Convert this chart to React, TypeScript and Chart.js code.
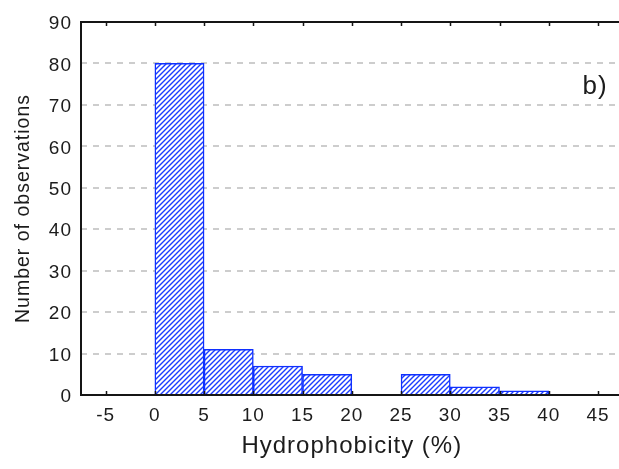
import React, { useEffect, useRef } from 'react';
import { Chart, registerables } from 'chart.js';

Chart.register(...registerables);

// ---- data ----
const binStarts = [0, 5, 10, 15, 20, 25, 30, 35];
const binWidth = 5;
const counts = [80, 11, 7, 5, 0, 5, 2, 1];
const xTickValues = [-5, 0, 5, 10, 15, 20, 25, 30, 35, 40, 45];
const yTickValues = [0, 10, 20, 30, 40, 50, 60, 70, 80, 90];
const xMin = -7.5;
const xMax = 47.5;
const yMin = 0;
const yMax = 90;
const xTitle = 'Hydrophobicity (%)';
const yTitle = 'Number of observations';
const panelLabel = 'b)';
const panelLabelX = 44.7;
const panelLabelY = 74.3;

const FONT = '"Liberation Sans", Arial, sans-serif';
const TEXT = '#1c1c1c';

function makeHatch(): CanvasPattern | string {
  const s = 5;
  const c = document.createElement('canvas');
  c.width = s;
  c.height = s;
  const g = c.getContext('2d');
  if (!g) return '#ffffff';
  g.fillStyle = '#ffffff';
  g.fillRect(0, 0, s, s);
  g.strokeStyle = '#1a3cff';
  g.lineWidth = 1.4;
  g.beginPath();
  g.moveTo(0, s);
  g.lineTo(s, 0);
  g.moveTo(-1, 1);
  g.lineTo(1, -1);
  g.moveTo(s - 1, s + 1);
  g.lineTo(s + 1, s - 1);
  g.stroke();
  const p = g.createPattern(c, 'repeat');
  return p || '#ffffff';
}

const decorPlugin = {
  id: 'decor',
  beforeDraw(chart: any) {
    try { chart.ctx.letterSpacing = '1px'; } catch (e) { /* ignore */ }
  },
  afterDatasetsDraw(chart: any) {
    const { ctx, chartArea: a, scales } = chart;
    const xs = scales.x;
    const ys = scales.y;
    ctx.save();
    ctx.strokeStyle = '#151515';
    ctx.lineWidth = 2;
    ctx.beginPath();
    ctx.moveTo(a.left - 1, a.top);
    ctx.lineTo(a.right + 10, a.top);
    ctx.moveTo(a.left, a.top - 1);
    ctx.lineTo(a.left, a.bottom + 1);
    ctx.moveTo(a.left - 1, a.bottom);
    ctx.lineTo(a.right + 10, a.bottom);
    ctx.stroke();
    ctx.lineWidth = 1.5;
    ctx.beginPath();
    for (const v of xTickValues) {
      const px = Math.round(xs.getPixelForValue(v)) + 0.5;
      ctx.moveTo(px, a.bottom);
      ctx.lineTo(px, a.bottom - 4);
      ctx.moveTo(px, a.top);
      ctx.lineTo(px, a.top + 4);
    }
    ctx.stroke();
    ctx.fillStyle = TEXT;
    ctx.font = `26px ${FONT}`;
    ctx.textAlign = 'center';
    ctx.textBaseline = 'middle';
    ctx.fillText(panelLabel, xs.getPixelForValue(panelLabelX), ys.getPixelForValue(panelLabelY));
    ctx.restore();
  },
};

export default function App() {
  const ref = useRef<HTMLCanvasElement | null>(null);

  useEffect(() => {
    if (!ref.current) return;
    const hatch = makeHatch();
    const chart = new Chart(ref.current, {
      type: 'bar',
      data: {
        datasets: [
          {
            data: binStarts.map((s, i) => ({ x: s + binWidth / 2, y: counts[i] })),
            backgroundColor: hatch as any,
            borderColor: '#1030ff',
            borderWidth: 1.5,
            barPercentage: 1,
            categoryPercentage: 1,
          },
        ],
      },
      options: {
        animation: false,
        responsive: false,
        maintainAspectRatio: false,
        layout: { padding: { left: 0, top: 22, right: 17.4, bottom: 0 } },
        plugins: { legend: { display: false }, tooltip: { enabled: false } },
        scales: {
          x: {
            type: 'linear',
            offset: false,
            min: xMin,
            max: xMax,
            afterBuildTicks: (scale: any) => {
              scale.ticks = xTickValues.map((v) => ({ value: v }));
            },
            afterFit: (scale: any) => {
              scale.height = 74;
            },
            grid: { display: false, drawTicks: false, offset: false },
            border: { display: false },
            ticks: {
              autoSkip: false,
              maxRotation: 0,
              padding: 9,
              color: TEXT,
              font: { family: FONT, size: 19 },
              callback: (v: any) => String(v),
            },
            title: {
              display: true,
              text: xTitle,
              color: TEXT,
              font: { family: FONT, size: 24 },
              padding: { top: 0, bottom: 8.6 },
            },
          },
          y: {
            type: 'linear',
            min: yMin,
            max: yMax,
            afterBuildTicks: (scale: any) => {
              scale.ticks = yTickValues.map((v) => ({ value: v }));
            },
            afterFit: (scale: any) => {
              scale.width = 81;
            },
            grid: {
              drawTicks: false,
              lineWidth: 2,
              color: (c: any) =>
                c.tick && (c.tick.value === yMin || c.tick.value === yMax) ? 'rgba(0,0,0,0)' : '#cdcdcd',
              borderDash: [6, 6],
            } as any,
            border: { display: false, dash: [6, 6] },
            ticks: {
              padding: 9,
              labelOffset: 2,
              color: TEXT,
              font: { family: FONT, size: 19 },
            },
            title: {
              display: true,
              text: yTitle,
              color: TEXT,
              font: { family: FONT, size: 19.5 },
              padding: { top: 12, bottom: 0 },
            },
          },
        },
      },
      plugins: [decorPlugin],
    });
    return () => chart.destroy();
  }, []);

  return (
    <div
      style={{
        position: 'fixed',
        left: 0,
        top: 0,
        width: 619,
        height: 469,
        overflow: 'hidden',
        background: '#ffffff',
      }}
    >
      <canvas ref={ref} width={640} height={469} style={{ width: 640, height: 469, display: 'block' }} />
    </div>
  );
}
